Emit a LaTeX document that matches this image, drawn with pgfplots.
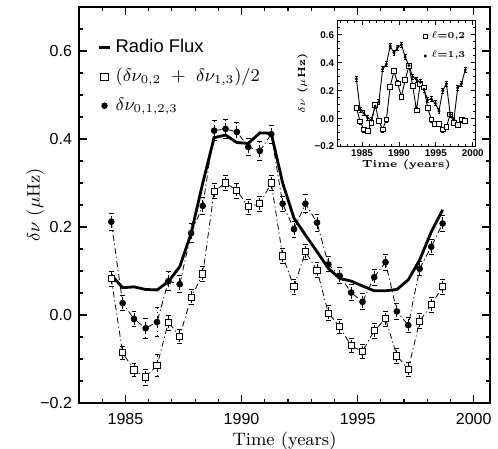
\documentclass[border=0pt]{standalone}
\usepackage{fontspec}
\usepackage{pgfplots}
\usepackage{pgfplotstable}
\pgfplotsset{compat=1.18}
\newfontfamily\hv{Liberation Sans}

\pgfplotstableread{
t       circ    cerr   sq      serr   flux
1984.39 0.212   0.019  0.083   0.017  0.091
1984.88 0.027   0.017  -0.086  0.015  0.062
1985.37 -0.009  0.017  -0.125  0.015  0.064
1985.87 -0.030  0.023  -0.141  0.018  0.058
1986.36 -0.016  0.033  -0.115  0.025  0.057
1986.85 0.077   0.021  -0.017  0.017  0.076
1987.34 0.070   0.019  -0.048  0.016  0.110
1987.83 0.186   0.021  0.040   0.017  0.186
1988.33 0.248   0.020  0.093   0.017  0.300
1988.82 0.419   0.023  0.281   0.017  0.403
1989.31 0.423   0.021  0.300   0.017  0.409
1989.80 0.416   0.021  0.283   0.017  0.392
1990.29 0.382   0.019  0.246   0.017  0.390
1990.79 0.373   0.021  0.253   0.017  0.414
1991.28 0.411   0.020  0.300   0.017  0.413
1991.77 0.253   0.017  0.134   0.017  0.300
1992.26 0.195   0.018  0.064   0.017  0.220
1992.75 0.253   0.021  0.144   0.017  0.182
1993.25 0.210   0.019  0.102   0.017  0.144
1993.74 0.115   0.017  0.004   0.017  0.106
1994.23 0.089   0.018  -0.027  0.016  0.083
1994.72 0.051   0.018  -0.070  0.016  0.077
1995.21 0.030   0.018  -0.083  0.016  0.066
1995.71 0.086   0.018  -0.036  0.017  0.055
1996.20 0.120   0.018  -0.008  0.017  0.055
1996.69 0.008   0.018  -0.093  0.017  0.058
1997.18 -0.023  0.017  -0.123  0.016  0.080
1997.67 0.105   0.016  -0.014  0.017  0.125
1998.17 0.155   0.017  0.023   0.017  0.189
1998.66 0.208   0.019  0.064   0.017  0.239
}\maintable

\pgfplotstableread{
t       lzt     lot    err
1984.23 0.080   0.284  0.018
1984.74 -0.020  0.065  0.018
1985.25 -0.077  0.040  0.018
1985.76 -0.090  0.005  0.018
1986.26 -0.030  -0.010 0.018
1986.77 0.100   0.090  0.018
1987.28 -0.017  0.120  0.018
1987.79 -0.077  0.355  0.018
1988.30 -0.005  0.390  0.018
1988.81 0.230   0.520  0.018
1989.32 0.340   0.470  0.018
1989.82 0.253   0.510  0.018
1990.33 0.157   0.530  0.018
1990.84 0.277   0.440  0.018
1991.35 0.376   0.380  0.018
1991.86 0.236   0.300  0.018
1992.37 0.060   0.280  0.018
1992.88 0.248   0.260  0.018
1993.38 0.224   0.210  0.018
1993.89 0.075   0.135  0.018
1994.40 -0.005  0.140  0.018
1994.91 -0.040  0.110  0.018
1995.42 -0.040  0.055  0.018
1995.93 -0.077  0.200  0.018
1996.43 -0.060  0.250  0.018
1996.94 0.030   0.030  0.018
1997.45 -0.030  -0.005 0.018
1997.96 -0.045  0.220  0.018
1998.47 -0.005  0.250  0.018
1998.98 -0.017  0.350  0.018
}\insettable

\begin{document}
\begin{tikzpicture}
\useasboundingbox (-39.5pt,-23pt) rectangle (209.5pt,201.5pt);
\begin{axis}[
  at={(0pt,0pt)}, anchor=south west,
  scale only axis, width=205.5pt, height=198pt,
  xmin=1983, xmax=2000.7, ymin=-0.2, ymax=0.7,
  xtick={1985,1990,1995,2000}, xticklabels={1985,1990,1995,2000},
  minor xtick={1983,1984,1986,1987,1988,1989,1991,1992,1993,1994,1996,1997,1998,1999},
  ytick={-0.2,0,0.2,0.4,0.6}, yticklabels={−0.2,0.0,0.2,0.4,0.6},
  minor ytick={-0.15,-0.1,-0.05,0.05,0.1,0.15,0.25,0.3,0.35,0.45,0.5,0.55,0.65},
  tick align=inside, major tick length=4pt, minor tick length=2pt,
  every tick/.style={black, line width=0.6pt},
  axis line style={line width=0.9pt},
  ticklabel style={font=\hv\fontsize{8}{9}\selectfont},
  xticklabel style={yshift=-1.5pt},
  xlabel={Time (years)}, ylabel={$\delta\nu$ ($\mu$Hz)},
  label style={font=\fontsize{9}{10}\selectfont},
  xlabel style={at={(axis description cs:0.5,-0.095)}, anchor=center},
  ylabel style={at={(axis description cs:-0.107,0.5)}, anchor=center},
  legend style={at={(axis description cs:0.045,0.93)}, anchor=north west, draw=none, fill=none,
    font=\fontsize{9}{10}\selectfont, row sep=2.5pt, inner sep=0pt},
  legend cell align=left,
  error bars/error bar style={line width=0.45pt},
  error bars/error mark options={rotate=90, mark size=1.2pt, line width=0.45pt},
]
\addlegendimage{legend image code/.code={\draw[line width=1.4pt] (0pt,0pt) -- (5.5pt,0pt);}}
\addlegendentry{\hv\fontsize{9.2}{10}\selectfont Radio Flux}
\addlegendimage{legend image code/.code={\draw[line width=0.5pt] (0.8pt,-1.8pt) rectangle (4.4pt,1.8pt);}}
\addlegendentry{$(\delta\nu_{0,2}\ +\ \delta\nu_{1,3})/2$}
\addlegendimage{legend image code/.code={\fill (2.6pt,0pt) circle (1.4pt);}}
\addlegendentry{$\delta\nu_{0,1,2,3}$}

\addplot[black, line width=0.4pt, dash pattern=on 3pt off 1.5pt on 0.6pt off 1.5pt,
  mark=square*, mark size=1.55pt, mark options={solid, fill=white, line width=0.5pt},
  error bars/.cd, y dir=both, y explicit]
  table[x=t, y=sq, y error=serr] {\maintable};
\addplot[black, line width=0.4pt, dash pattern=on 3pt off 1.5pt on 0.6pt off 1.5pt,
  mark=*, mark size=1.45pt, mark options={solid},
  error bars/.cd, y dir=both, y explicit]
  table[x=t, y=circ, y error=cerr] {\maintable};
\addplot[black, line width=1.4pt, no marks] table[x=t, y=flux] {\maintable};
\end{axis}

\begin{axis}[
  at={(129.2pt,128.2pt)}, anchor=south west,
  scale only axis, width=68.9pt, height=62.9pt,
  axis background/.style={fill=white},
  xmin=1981.66, xmax=2000.33, ymin=-0.2, ymax=0.7,
  xtick={1985,1990,1995,2000}, xticklabels={1985,1990,1995,2000},
  minor xtick={1982,1983,1984,1986,1987,1988,1989,1991,1992,1993,1994,1996,1997,1998,1999},
  ytick={-0.2,0,0.2,0.4,0.6}, yticklabels={−0.2,0.0,0.2,0.4,0.6},
  minor ytick={-0.15,-0.1,-0.05,0.05,0.1,0.15,0.25,0.3,0.35,0.45,0.5,0.55,0.65},
  tick align=inside, major tick length=2.2pt, minor tick length=1.1pt,
  every tick/.style={black, line width=0.4pt},
  axis line style={line width=0.6pt},
  ticklabel style={font=\hv\bfseries\fontsize{4.9}{5}\selectfont, inner sep=1.5pt},
  xlabel={Time (years)}, ylabel={$\delta\nu$ ($\mu$Hz)},
  label style={font=\bfseries\fontsize{5.2}{6}\selectfont},
  xlabel style={at={(axis description cs:0.5,-0.143)}, anchor=center},
  ylabel style={at={(axis description cs:-0.254,0.5)}, anchor=center},
  legend style={at={(axis description cs:0.96,0.95)}, anchor=north east, draw=none, fill=none,
    font=\bfseries\fontsize{4.5}{5}\selectfont, row sep=0.8pt, inner sep=0pt},
  legend cell align=left,
  error bars/error bar style={line width=0.3pt},
  error bars/error mark options={rotate=90, mark size=0.7pt, line width=0.3pt},
]
\addlegendimage{legend image code/.code={\draw[line width=0.3pt] (1.2pt,-0.9pt) rectangle (3pt,0.9pt);}}
\addlegendentry{$\ell$=0,2}
\addlegendimage{legend image code/.code={\fill (2.1pt,0pt) circle (0.5pt);}}
\addlegendentry{$\ell$=1,3}
\addplot[black, line width=0.45pt, mark=square*, mark size=1.2pt,
  mark options={fill=white, line width=0.35pt},
  error bars/.cd, y dir=both, y fixed=0.018]
  table[x=t, y=lzt] {\insettable};
\addplot[black, line width=0.45pt, mark=*, mark size=0.5pt,
  error bars/.cd, y dir=both, y fixed=0.018]
  table[x=t, y=lot] {\insettable};
\end{axis}
\end{tikzpicture}
\end{document}
